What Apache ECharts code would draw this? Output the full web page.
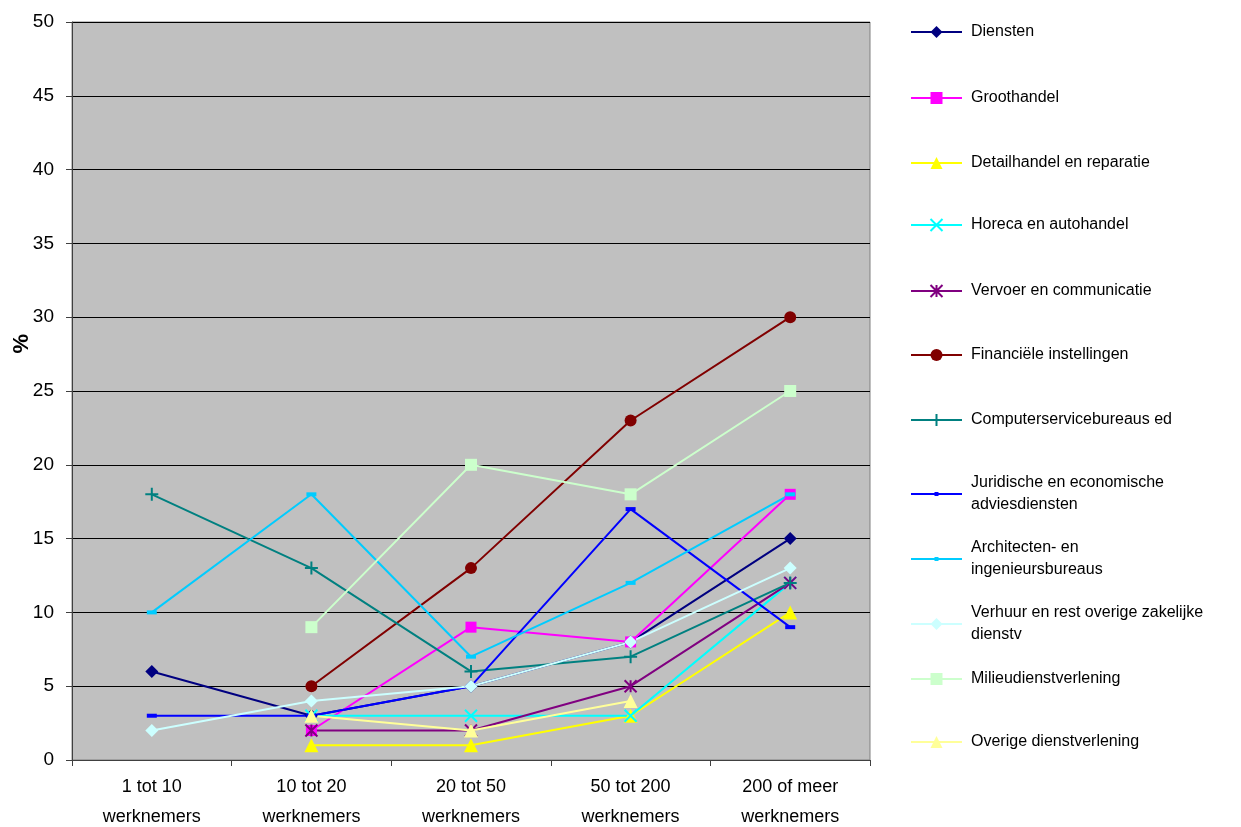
<!DOCTYPE html>
<html>
<head>
<meta charset="utf-8">
<script src="https://cdn.jsdelivr.net/npm/echarts@6/dist/echarts.min.js"></script>
<style>
  html, body { margin: 0; padding: 0; background: #ffffff; }
  #chart { width: 1241px; height: 827px; }
</style>
</head>
<body>
<div id="chart"></div>
<script>
// Size classes (number of employees)
const categories = [
  '1 tot 10\nwerknemers',
  '10 tot 20\nwerknemers',
  '20 tot 50\nwerknemers',
  '50 tot 200\nwerknemers',
  '200 of meer\nwerknemers'
];

// Percentages per sector, one value per size class (null = no value)
const diensten          = [6, 3, 5, 8, 15];
const groothandel       = [null, 2, 9, 8, 18];
const detailhandel      = [null, 1, 1, 3, 10];
const horeca            = [null, 3, 3, 3, 12];
const vervoer           = [null, 2, 2, 5, 12];
const financieel        = [null, 5, 13, 23, 30];
const computerservice   = [18, 13, 6, 7, 12];
const juridisch         = [3, 3, 5, 17, 9];
const architecten       = [10, 18, 7, 12, 18];
const verhuur           = [2, 4, 5, 8, 13];
const milieu            = [null, 9, 20, 18, 25];
const overige           = [null, 3, 2, 4, null];

const yTicks = { min: 0, max: 50, interval: 5 };

const PATH_X = 'path://M0,0L10,10M10,0L0,10';
const PATH_STAR = 'path://M5,0L5,10M0,0L10,10M10,0L0,10';
const PATH_PLUS = 'path://M5,0L5,10M0,5L10,5';
const PATH_DASH = 'path://M0,0L10,0L10,4L0,4Z';

const seriesDefs = [
  { name: 'Diensten', data: diensten, color: '#000080', symbol: 'diamond', size: 13 },
  { name: 'Groothandel', data: groothandel, color: '#FF00FF', symbol: 'rect', size: 11 },
  { name: 'Detailhandel en reparatie', data: detailhandel, color: '#FFFF00', symbol: 'triangle', size: 14 },
  { name: 'Horeca en autohandel', data: horeca, color: '#00FFFF', symbol: PATH_X, size: 12, stroke: true },
  { name: 'Vervoer en communicatie', data: vervoer, color: '#800080', symbol: PATH_STAR, size: 12, stroke: true },
  { name: 'Financiële instellingen', data: financieel, color: '#800000', symbol: 'circle', size: 12 },
  { name: 'Computerservicebureaus ed', data: computerservice, color: '#008080', symbol: PATH_PLUS, size: 13, stroke: true },
  { name: 'Juridische en economische\nadviesdiensten', data: juridisch, color: '#0000FF', symbol: PATH_DASH, size: 10, dash: true },
  { name: 'Architecten- en\ningenieursbureaus', data: architecten, color: '#00CCFF', symbol: PATH_DASH, size: 10, dash: true },
  { name: 'Verhuur en rest overige zakelijke\ndienstv', data: verhuur, color: '#CCFFFF', symbol: 'diamond', size: 13 },
  { name: 'Milieudienstverlening', data: milieu, color: '#CCFFCC', symbol: 'rect', size: 12 },
  { name: 'Overige dienstverlening', data: overige, color: '#FFFF99', symbol: 'triangle', size: 14 }
];

// vertical centre of each legend entry's icon
const legendCentres = [32, 98, 163, 225, 291, 355, 420, 494, 559, 624, 679, 742];

const FONT = '"Liberation Sans", Arial, sans-serif';

const series = seriesDefs.map(d => ({
  name: d.name,
  type: 'line',
  data: d.data,
  symbol: d.symbol,
  symbolSize: d.size,
  symbolKeepAspect: true,
  connectNulls: false,
  animation: false,
  lineStyle: { color: d.color, width: 2 },
  itemStyle: d.stroke
    ? { color: d.color, borderColor: d.color, borderWidth: 2 }
    : { color: d.color, borderWidth: 0 },
  emphasis: { disabled: true }
}));

const legends = seriesDefs.map((d, i) => {
  const twoLines = d.name.indexOf('\n') >= 0;
  return {
    data: [d.name],
    orient: 'vertical',
    left: 910,
    top: legendCentres[i] - (twoLines ? 22 : 11),
    itemWidth: 51,
    itemHeight: d.dash ? 5 : 15,
    itemGap: 0,
    padding: 0,
    symbolKeepAspect: true,
    selectedMode: false,
    textStyle: { fontFamily: FONT, fontSize: 16, color: '#000', lineHeight: 22, padding: [0, 0, 0, 4] }
  };
});

const chart = echarts.init(document.getElementById('chart'), null, { renderer: 'canvas' });
chart.setOption({
  backgroundColor: '#ffffff',
  animation: false,
  textStyle: { fontFamily: FONT },
  grid: {
    left: 72, right: 371, top: 22, bottom: 67,
    outerBoundsMode: 'none',
    containLabel: false,
    show: true, backgroundColor: '#C0C0C0', borderColor: '#808080', borderWidth: 1
  },
  legend: legends,
  xAxis: {
    type: 'category',
    data: categories,
    boundaryGap: true,
    axisLine: { lineStyle: { color: '#404040', width: 1 } },
    axisTick: { show: true, inside: false, length: 6, lineStyle: { color: '#404040' } },
    axisLabel: { fontFamily: FONT, fontSize: 18, color: '#000', lineHeight: 30, margin: 12, interval: 0 },
    splitLine: { show: false }
  },
  yAxis: {
    type: 'value',
    min: yTicks.min,
    max: yTicks.max,
    interval: yTicks.interval,
    axisLine: { show: true, lineStyle: { color: '#404040', width: 1 } },
    axisTick: { show: true, inside: false, length: 6, lineStyle: { color: '#404040' } },
    axisLabel: { fontFamily: FONT, fontSize: 19, color: '#000', margin: 18 },
    splitLine: { show: true, lineStyle: { color: '#000', width: 1 } }
  },
  graphic: [{
    type: 'text',
    left: 11,
    top: 334,
    rotation: Math.PI / 2,
    style: { text: '%', font: 'bold 22px ' + FONT, fill: '#000' }
  }],
  series: series
});
</script>
</body>
</html>
